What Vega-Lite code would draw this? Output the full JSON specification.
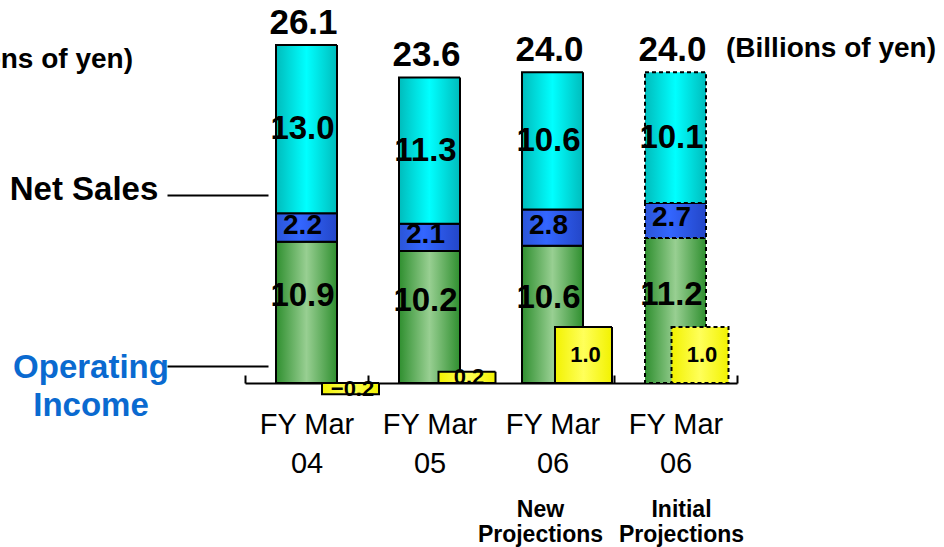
{
  "$schema": "https://vega.github.io/schema/vega-lite/v6.json",
  "width": 944,
  "height": 547,
  "autosize": "none",
  "padding": 0,
  "background": "#ffffff",
  "config": {"view": {"stroke": null}, "text": {"font": "Liberation Sans"}},
  "datasets": {
    "sales": [
      {"period": "FY Mar 04", "segment": "Segment A", "value": 10.9, "plan": "Result"},
      {"period": "FY Mar 04", "segment": "Segment B", "value": 2.2, "plan": "Result"},
      {"period": "FY Mar 04", "segment": "Segment C", "value": 13.0, "plan": "Result"},
      {"period": "FY Mar 05", "segment": "Segment A", "value": 10.2, "plan": "Result"},
      {"period": "FY Mar 05", "segment": "Segment B", "value": 2.1, "plan": "Result"},
      {"period": "FY Mar 05", "segment": "Segment C", "value": 11.3, "plan": "Result"},
      {"period": "FY Mar 06 (New)", "segment": "Segment A", "value": 10.6, "plan": "Result"},
      {"period": "FY Mar 06 (New)", "segment": "Segment B", "value": 2.8, "plan": "Result"},
      {"period": "FY Mar 06 (New)", "segment": "Segment C", "value": 10.6, "plan": "Result"},
      {"period": "FY Mar 06 (Initial)", "segment": "Segment A", "value": 11.2, "plan": "Initial"},
      {"period": "FY Mar 06 (Initial)", "segment": "Segment B", "value": 2.7, "plan": "Initial"},
      {"period": "FY Mar 06 (Initial)", "segment": "Segment C", "value": 10.1, "plan": "Initial"}
    ],
    "income": [
      {"period": "FY Mar 04", "value": -0.2, "plan": "Result"},
      {"period": "FY Mar 05", "value": 0.2, "plan": "Result"},
      {"period": "FY Mar 06 (New)", "value": 1.0, "plan": "Result"},
      {"period": "FY Mar 06 (Initial)", "value": 1.0, "plan": "Initial"}
    ]
  },
  "resolve": {"scale": {"x": "independent", "y": "independent"}},
  "layer": [
    {
      "data": {"name": "sales"},
      "transform": [
        {"stack": "value", "groupby": ["period"], "sort": [{"field": "segment", "order": "ascending"}], "as": ["y0", "y1"]},
        {"calculate": "(datum.y0 + datum.y1) / 2", "as": "mid"}
      ],
      "resolve": {"axis": {"y": "independent"}},
      "encoding": {
        "x": {
          "field": "period", "type": "nominal", "sort": null,
          "scale": {"domain": ["FY Mar 04", "FY Mar 05", "FY Mar 06 (New)", "FY Mar 06 (Initial)"], "range": [245, 737], "paddingInner": 0, "paddingOuter": 0},
          "axis": {
            "orient": "bottom", "offset": -164, "title": null,
            "domainColor": "#000000", "domainWidth": 2,
            "tickColor": "#000000", "tickWidth": 2, "tickSize": -8, "tickBand": "extent",
            "labelAngle": 0, "labelFont": "Liberation Sans", "labelFontSize": 29, "labelColor": "#000000",
            "labelExpr": "datum.label ? ['FY Mar', substring(datum.label, 7, 9)] : ''",
            "labelLineHeight": 39, "labelPadding": 35, "labelBaseline": "top"
          }
        }
      },
      "layer": [
        {
          "transform": [{"filter": "datum.segment === 'Segment A'"}],
          "mark": {"type": "bar", "width": 61, "stroke": "#000000", "strokeWidth": 2,
            "fill": {"gradient": "linear", "x1": 0, "y1": 0, "x2": 1, "y2": 0, "stops": [{"offset": 0, "color": "#2f8f2f"}, {"offset": 0.5, "color": "#98cf92"}, {"offset": 1, "color": "#2f8f2f"}]}},
          "encoding": {
            "y": {"field": "y1", "type": "quantitative", "scale": {"domain": [-12.66, 29.575], "nice": false, "zero": false},
              "axis": {
                "orient": "left", "offset": -268, "values": [14.52, 1.3], "domain": false, "grid": false, "title": null,
                "tickSize": 101, "tickWidth": 2, "tickColor": "#000000",
                "labelExpr": "datum.value > 5 ? 'Net Sales' : ['Operating', 'Income']",
                "labelFont": "Liberation Sans", "labelFontWeight": "bold", "labelFontSize": 33,
                "labelAlign": "center", "labelBaseline": "middle", "labelLineHeight": 38,
                "labelOverlap": false, "labelBound": false, "labelFlush": false,
                "labelPadding": {"condition": {"test": "datum.value > 5", "value": 83.5}, "value": 76.5},
                "labelOffset": {"condition": {"test": "datum.value > 5", "value": -5}, "value": 1},
                "labelColor": {"condition": {"test": "datum.value > 5", "value": "#000000"}, "value": "#0a6ad0"}
              }},
            "y2": {"field": "y0"},
            "strokeDash": {"field": "plan", "type": "nominal", "scale": {"domain": ["Result", "Initial"], "range": [[1, 0], [4, 3]]}, "legend": null}
          }
        },
        {
          "transform": [{"filter": "datum.segment === 'Segment B'"}],
          "mark": {"type": "bar", "width": 61, "stroke": "#000000", "strokeWidth": 2,
            "fill": {"gradient": "linear", "x1": 0, "y1": 0, "x2": 1, "y2": 0, "stops": [{"offset": 0, "color": "#2b55d8"}, {"offset": 0.4, "color": "#3366ff"}, {"offset": 1, "color": "#2346c8"}]}},
          "encoding": {
            "y": {"field": "y1", "type": "quantitative", "scale": {"domain": [-12.66, 29.575], "nice": false, "zero": false}, "axis": null},
            "y2": {"field": "y0"},
            "strokeDash": {"field": "plan", "type": "nominal", "scale": {"domain": ["Result", "Initial"], "range": [[1, 0], [4, 3]]}, "legend": null}
          }
        },
        {
          "transform": [{"filter": "datum.segment === 'Segment C'"}],
          "mark": {"type": "bar", "width": 61, "stroke": "#000000", "strokeWidth": 2,
            "fill": {"gradient": "linear", "x1": 0, "y1": 0, "x2": 1, "y2": 0, "stops": [{"offset": 0, "color": "#00bcbc"}, {"offset": 0.5, "color": "#00ffff"}, {"offset": 1, "color": "#00bcbc"}]}},
          "encoding": {
            "y": {"field": "y1", "type": "quantitative", "scale": {"domain": [-12.66, 29.575], "nice": false, "zero": false}, "axis": null},
            "y2": {"field": "y0"},
            "strokeDash": {"field": "plan", "type": "nominal", "scale": {"domain": ["Result", "Initial"], "range": [[1, 0], [4, 3]]}, "legend": null}
          }
        },
        {
          "transform": [{"filter": "datum.segment === 'Segment A'"}],
          "mark": {"type": "text", "font": "Liberation Sans", "fontWeight": "bold", "fontSize": 33, "color": "#000000", "baseline": "middle", "dx": -4, "dy": -16},
          "encoding": {
            "y": {"field": "mid", "type": "quantitative", "scale": {"domain": [-12.66, 29.575], "nice": false, "zero": false}, "axis": null},
            "text": {"field": "value", "format": ".1f"}
          }
        },
        {
          "transform": [{"filter": "datum.segment === 'Segment B'"}],
          "mark": {"type": "text", "font": "Liberation Sans", "fontWeight": "bold", "fontSize": 28, "color": "#000000", "baseline": "middle", "dx": -4, "dy": -2},
          "encoding": {
            "y": {"field": "mid", "type": "quantitative", "scale": {"domain": [-12.66, 29.575], "nice": false, "zero": false}, "axis": null},
            "text": {"field": "value", "format": ".1f"}
          }
        },
        {
          "transform": [{"filter": "datum.segment === 'Segment C'"}],
          "mark": {"type": "text", "font": "Liberation Sans", "fontWeight": "bold", "fontSize": 33, "color": "#000000", "baseline": "middle", "dx": -4, "dy": 0},
          "encoding": {
            "y": {"field": "mid", "type": "quantitative", "scale": {"domain": [-12.66, 29.575], "nice": false, "zero": false}, "axis": null},
            "text": {"field": "value", "format": ".1f"}
          }
        },
        {
          "transform": [{"aggregate": [{"op": "sum", "field": "value", "as": "total"}], "groupby": ["period"]}],
          "mark": {"type": "text", "font": "Liberation Sans", "fontWeight": "bold", "fontSize": 35, "color": "#000000", "baseline": "alphabetic", "dx": -3, "dy": -11},
          "encoding": {
            "y": {"field": "total", "type": "quantitative", "scale": {"domain": [-12.66, 29.575], "nice": false, "zero": false}, "axis": null},
            "text": {"field": "total", "format": ".1f"}
          }
        },
        {
          "data": {"values": [{"period": "FY Mar 06 (New)", "note": "New\nProjections"}]},
          "mark": {"type": "text", "font": "Liberation Sans", "fontWeight": "bold", "fontSize": 23, "color": "#000000", "baseline": "alphabetic", "lineBreak": "\n", "lineHeight": 25, "dx": -12},
          "encoding": {
            "y": {"datum": -10.35, "type": "quantitative", "scale": {"domain": [-12.66, 29.575], "nice": false, "zero": false}, "axis": null},
            "text": {"field": "note"}
          }
        },
        {
          "data": {"values": [{"period": "FY Mar 06 (Initial)", "note": "Initial\nProjections"}]},
          "mark": {"type": "text", "font": "Liberation Sans", "fontWeight": "bold", "fontSize": 23, "color": "#000000", "baseline": "alphabetic", "lineBreak": "\n", "lineHeight": 25, "dx": 6},
          "encoding": {
            "y": {"datum": -10.35, "type": "quantitative", "scale": {"domain": [-12.66, 29.575], "nice": false, "zero": false}, "axis": null},
            "text": {"field": "note"}
          }
        },
        {
          "data": {"values": [{"note": "(Billions of yen)"}]},
          "mark": {"type": "text", "font": "Liberation Sans", "fontWeight": "bold", "fontSize": 28, "color": "#000000", "align": "left", "baseline": "alphabetic", "dx": 50.5},
          "encoding": {
            "x": {"datum": "FY Mar 06 (Initial)", "type": "nominal"},
            "y": {"datum": 25.17, "type": "quantitative", "scale": {"domain": [-12.66, 29.575], "nice": false, "zero": false}, "axis": null},
            "text": {"field": "note"}
          }
        },
        {
          "data": {"values": [{"note": "(Billions of yen)"}]},
          "mark": {"type": "text", "font": "Liberation Sans", "fontWeight": "bold", "fontSize": 28, "color": "#000000", "align": "right", "baseline": "alphabetic", "dx": -173.5},
          "encoding": {
            "x": {"datum": "FY Mar 04", "type": "nominal"},
            "y": {"datum": 24.35, "type": "quantitative", "scale": {"domain": [-12.66, 29.575], "nice": false, "zero": false}, "axis": null},
            "text": {"field": "note"}
          }
        }
      ]
    },
    {
      "data": {"name": "income"},
      "encoding": {
        "x": {
          "field": "period", "type": "nominal", "sort": null,
          "scale": {"domain": ["FY Mar 04", "FY Mar 05", "FY Mar 06 (New)", "FY Mar 06 (Initial)"], "range": [292.25, 758.25], "paddingInner": 0, "paddingOuter": 0},
          "axis": null
        }
      },
      "layer": [
        {
          "mark": {"type": "bar", "width": 57, "stroke": "#000000", "strokeWidth": 2,
            "fill": {"gradient": "linear", "x1": 0, "y1": 0, "x2": 1, "y2": 0, "stops": [{"offset": 0, "color": "#f2f200"}, {"offset": 0.5, "color": "#ffff5a"}, {"offset": 1, "color": "#f2f200"}]}},
          "encoding": {
            "y": {"field": "value", "type": "quantitative", "scale": {"domain": [-2.929, 6.839], "nice": false, "zero": false}, "axis": null},
            "y2": {"datum": 0},
            "strokeDash": {"field": "plan", "type": "nominal", "scale": {"domain": ["Result", "Initial"], "range": [[1, 0], [4, 3]]}, "legend": null}
          }
        },
        {
          "transform": [{"calculate": "datum.value / 2", "as": "half"}],
          "mark": {"type": "text", "font": "Liberation Sans", "fontWeight": "bold", "fontSize": 22, "color": "#000000", "baseline": "middle", "dx": 2},
          "encoding": {
            "y": {"field": "half", "type": "quantitative", "scale": {"domain": [-2.929, 6.839], "nice": false, "zero": false}, "axis": null},
            "text": {"field": "value", "format": ".1f"}
          }
        }
      ]
    }
  ]
}
